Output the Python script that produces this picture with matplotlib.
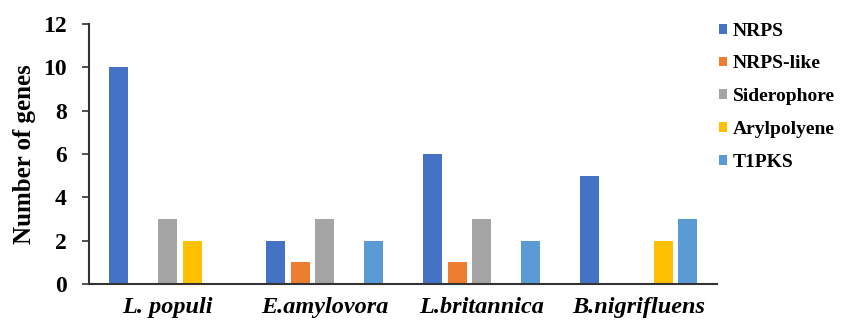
import matplotlib
matplotlib.use("Agg")
import matplotlib.pyplot as plt
import numpy as np

species = ["L. populi", "E.amylovora", "L.britannica", "B.nigrifluens"]
series = ["NRPS", "NRPS-like", "Siderophore", "Arylpolyene", "T1PKS"]
nrps = [10, 2, 6, 5]
nrps_like = [0, 1, 1, 0]
siderophore = [3, 3, 3, 0]
arylpolyene = [2, 0, 0, 2]
t1pks = [0, 2, 2, 3]
colors = ["#4472C4", "#ED7D31", "#A5A5A5", "#FFC000", "#5B9BD5"]

plt.rcParams["font.family"] = ["Liberation Serif", "DejaVu Serif"]
plt.rcParams["font.weight"] = "bold"

fig = plt.figure(figsize=(8.41, 3.25), dpi=100)
ax = fig.add_axes([0.106, 0.126, 0.747, 0.8])

x = np.arange(len(species)) + 0.5
slot = 0.156
width = 0.121
values = [nrps, nrps_like, siderophore, arylpolyene, t1pks]
for i, (name, vals, c) in enumerate(zip(series, values, colors)):
    ax.bar(x + (i - 2) * slot, vals, width=width, color=c, label=name, zorder=2)

ax.set_xlim(0, 4)
ax.set_ylim(0, 12)
ax.set_yticks(range(0, 13, 2))
ax.tick_params(axis="y", direction="out", length=5, width=1.2, color="#333333",
               labelsize=17, pad=11)
ax.set_xticks(x)
ax.set_xticklabels(species, fontsize=17.5, fontstyle="italic", fontweight="bold")
ax.tick_params(axis="x", length=0, pad=9)
for lab in ax.get_yticklabels():
    lab.set_fontweight("bold")

ax.set_ylabel("Number of genes", fontsize=18, fontweight="bold", labelpad=5)
ax.spines["top"].set_visible(False)
ax.spines["right"].set_visible(False)
for s in ("left", "bottom"):
    ax.spines[s].set_linewidth(1.5)
    ax.spines[s].set_color("#333333")

leg = fig.legend(loc="upper left", bbox_to_anchor=(0.855, 0.93), frameon=False,
                 fontsize=14, handlelength=0.4, handleheight=0.4, handletextpad=0.3,
                 labelspacing=0.81, borderaxespad=0, borderpad=0)
for t in leg.get_texts():
    t.set_fontweight("bold")

fig.savefig("out.png", dpi=100)
